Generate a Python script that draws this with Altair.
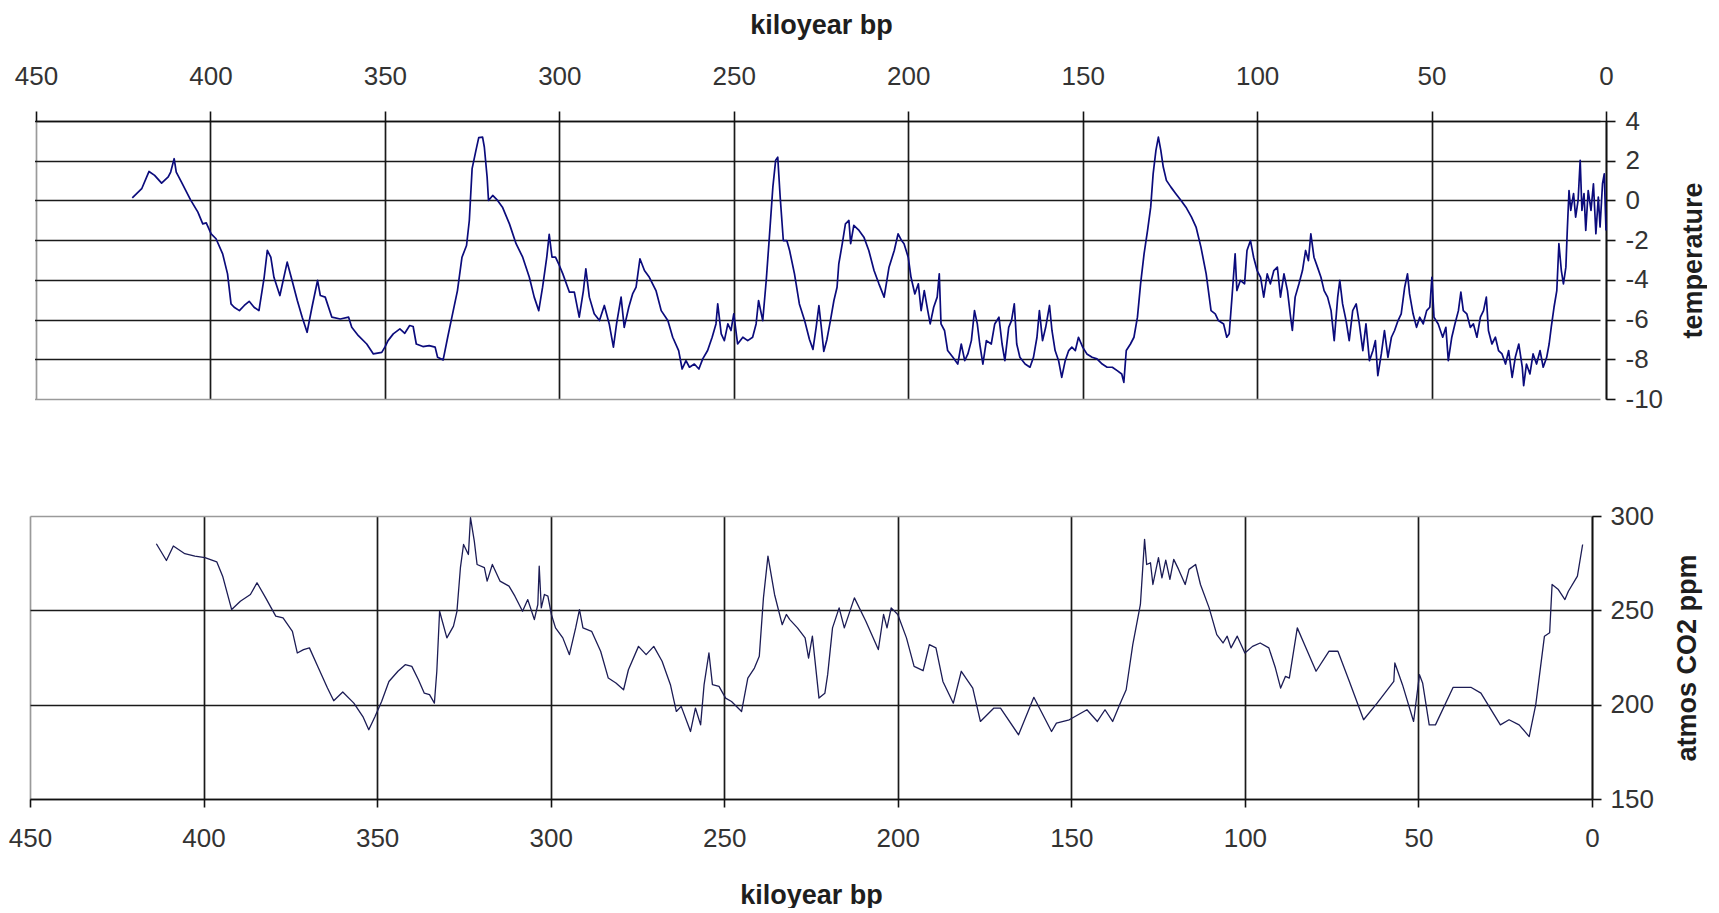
import altair as alt
import pandas as pd

# ---------------- data ----------------
temp_year = [
    422.4, 419.7, 417.6, 416.0, 414.0, 412.1, 411.4, 410.4, 409.8, 408.3,
    405.7, 403.6, 402.2, 401.2, 399.8, 398.4, 396.5, 395.1, 394.1, 393.2,
    391.7, 390.3, 388.9, 387.5, 386.1, 384.6, 383.7, 382.7, 381.8, 380.1,
    378.0, 376.6, 375.1, 373.7, 372.3, 370.9, 369.3, 368.5, 367.1, 365.2,
    362.8, 360.4, 359.5, 357.6, 355.2, 353.3, 350.9, 350.0, 349.1, 347.6,
    345.7, 344.3, 342.9, 341.9, 341.0, 339.1, 337.3, 335.6, 334.9, 333.3,
    332.0, 330.6, 329.2, 327.9, 326.6, 325.8, 325.0, 323.9, 323.1, 322.0,
    321.5, 320.7, 320.3, 319.1, 317.7, 316.3, 314.3, 312.4, 310.5, 308.6,
    307.2, 305.9, 304.8, 303.6, 302.9, 302.1, 301.1, 300.2, 299.0, 297.1,
    295.7, 294.3, 293.1, 292.4, 291.4, 290.0, 288.5, 287.1, 285.7, 284.5,
    283.6, 282.3, 281.4, 280.1, 279.0, 278.0, 276.9, 275.6, 274.2, 272.3,
    270.8, 268.9, 267.5, 265.8, 264.8, 263.7, 262.7, 261.3, 260.0, 258.9,
    257.5, 256.2, 255.1, 254.6, 253.6, 252.7, 251.7, 250.8, 250.0, 248.9,
    247.4, 246.0, 244.6, 243.6, 242.9, 241.7, 240.7, 239.8, 238.8, 238.0,
    237.4, 236.7, 235.8, 234.8, 234.0, 232.6, 231.2, 229.7, 228.3, 227.3,
    226.4, 225.6, 224.9, 224.2, 223.3, 222.3, 221.3, 220.4, 219.9, 218.9,
    218.0, 217.0, 216.5, 215.6, 214.1, 212.7, 211.3, 209.8, 208.4, 206.9,
    205.5, 204.0, 202.9, 201.9, 201.2, 200.0, 199.2, 198.1, 197.1, 196.3,
    195.4, 194.4, 193.7, 192.7, 191.7, 191.1, 190.6, 189.6, 188.7, 187.2,
    185.8, 184.8, 183.8, 182.9, 181.9, 181.0, 180.2, 179.5, 178.6, 177.6,
    176.2, 175.2, 174.0, 173.1, 172.3, 171.2, 170.4, 169.6, 168.9, 168.0,
    166.5, 165.1, 164.1, 163.1, 162.4, 161.5, 160.6, 159.5, 158.8, 157.9,
    156.9, 156.0, 155.0, 154.0, 153.1, 152.1, 151.2, 150.0, 148.8, 147.3,
    145.9, 144.4, 143.0, 141.5, 140.1, 138.8, 138.2, 137.5, 136.3, 135.3,
    134.3, 133.4, 132.4, 131.4, 130.5, 129.8, 129.0, 128.3, 127.6, 126.9,
    126.0, 124.7, 123.3, 121.8, 120.4, 118.8, 117.5, 116.1, 114.6, 113.2,
    112.0, 111.1, 109.6, 108.7, 108.0, 107.2, 106.3, 105.8, 104.8, 103.6,
    102.9, 101.9, 101.0, 100.0, 99.0, 98.1, 97.1, 96.2, 95.2, 94.2,
    93.3, 92.3, 91.3, 90.4, 89.9, 89.1, 88.0, 87.0, 86.1, 85.3,
    84.6, 83.7, 82.7, 81.7, 80.8, 79.8, 78.8, 77.9, 76.9, 76.3,
    75.5, 74.5, 73.6, 72.6, 71.6, 70.7, 69.7, 68.8, 67.8, 66.8,
    66.1, 65.4, 64.4, 63.5, 62.5, 61.5, 60.6, 59.6, 58.7, 57.7,
    56.9, 56.3, 55.3, 54.3, 53.4, 52.4, 51.4, 50.5, 49.9, 49.3,
    48.1, 46.8, 45.9, 45.2, 44.2, 43.3, 42.3, 41.6, 40.9, 39.9,
    38.9, 38.0, 37.0, 36.0, 35.1, 34.3, 33.7, 32.7, 31.7, 30.8,
    29.8, 28.8, 27.9, 26.9, 26.0, 25.0, 24.0, 23.6, 22.8, 21.8,
    20.9, 19.9, 18.9, 18.0, 17.0, 16.3, 15.7, 14.9, 14.1, 13.5,
    12.8, 12.2, 11.5, 11.1, 10.6, 10.1, 9.3, 8.7, 8.0, 7.4,
    6.9, 6.3, 5.8, 5.1, 4.3, 3.6, 2.9, 2.2, 1.7, 1.0,
    0.5, 0.0,
]
temp_value = [
    0.13, 0.59, 1.46, 1.26, 0.87, 1.18, 1.43, 2.10, 1.43, 0.92,
    0.03, -0.59, -1.18, -1.13, -1.68, -1.93, -2.69, -3.70, -5.21, -5.38,
    -5.55, -5.29, -5.08, -5.38, -5.55, -3.87, -2.52, -2.86, -3.87, -4.79,
    -3.11, -4.03, -5.04, -5.88, -6.64, -5.38, -4.03, -4.79, -4.87, -5.88,
    -5.97, -5.88, -6.39, -6.81, -7.23, -7.73, -7.65, -7.39, -7.06, -6.72,
    -6.47, -6.69, -6.30, -6.35, -7.23, -7.36, -7.31, -7.39, -7.90, -8.03,
    -6.89, -5.71, -4.54, -2.86, -2.27, -1.01, 1.60, 2.52, 3.16, 3.19,
    2.69, 1.18, 0.00, 0.25, 0.00, -0.34, -1.18, -2.18, -2.86, -3.87,
    -4.87, -5.55, -4.37, -2.86, -1.71, -2.86, -2.86, -3.19, -3.70, -4.62,
    -4.62, -5.88, -4.54, -3.45, -4.87, -5.71, -6.05, -5.29, -6.22, -7.39,
    -6.22, -4.87, -6.39, -5.38, -4.71, -4.37, -2.94, -3.53, -3.87, -4.54,
    -5.55, -6.05, -6.89, -7.56, -8.49, -8.07, -8.40, -8.24, -8.49, -7.98,
    -7.56, -6.89, -6.22, -5.21, -6.72, -7.06, -6.22, -6.55, -5.71, -7.23,
    -6.89, -7.06, -6.89, -6.22, -5.04, -6.05, -4.03, -1.85, 0.67, 2.02,
    2.18, 0.17, -2.02, -2.02, -2.52, -3.70, -5.21, -6.05, -7.00, -7.50,
    -6.40, -5.30, -6.40, -7.60, -7.00, -6.05, -5.04, -4.37, -3.19, -2.18,
    -1.18, -1.01, -2.18, -1.26, -1.51, -1.85, -2.52, -3.53, -4.20, -4.87,
    -3.36, -2.52, -1.68, -2.02, -2.18, -2.86, -3.87, -4.71, -4.20, -5.55,
    -4.54, -5.55, -6.22, -5.38, -4.87, -3.70, -6.22, -6.55, -7.56, -7.90,
    -8.24, -7.23, -8.07, -7.73, -7.06, -5.55, -6.22, -7.23, -8.24, -7.06,
    -7.23, -6.22, -5.88, -7.23, -8.07, -6.39, -6.05, -5.21, -7.23, -7.90,
    -8.24, -8.40, -7.90, -6.89, -5.55, -7.06, -6.39, -5.29, -6.55, -7.56,
    -8.07, -8.91, -8.07, -7.56, -7.39, -7.56, -6.89, -7.39, -7.73, -7.90,
    -7.98, -8.24, -8.40, -8.40, -8.57, -8.74, -9.16, -7.56, -7.23, -6.89,
    -5.88, -4.20, -2.69, -1.51, -0.34, 1.34, 2.52, 3.19, 2.52, 1.68,
    1.01, 0.67, 0.34, 0.00, -0.34, -0.84, -1.34, -2.35, -3.70, -5.55,
    -5.71, -6.05, -6.22, -6.89, -6.72, -4.87, -2.69, -4.54, -4.03, -4.20,
    -2.52, -2.02, -2.86, -3.53, -3.87, -4.87, -3.70, -4.20, -3.53, -3.36,
    -4.87, -3.70, -4.54, -5.88, -6.55, -4.87, -4.20, -3.53, -2.52, -3.03,
    -1.68, -2.86, -3.36, -3.87, -4.54, -4.87, -5.55, -7.06, -4.87, -4.03,
    -5.21, -6.05, -7.06, -5.55, -5.21, -6.22, -7.56, -6.22, -8.07, -7.56,
    -7.06, -8.82, -7.73, -6.55, -7.90, -6.89, -6.55, -6.05, -5.71, -4.37,
    -3.70, -4.71, -5.71, -6.39, -5.88, -6.22, -5.55, -5.38, -3.87, -5.88,
    -6.22, -6.89, -6.39, -8.07, -6.89, -6.22, -5.55, -4.62, -5.55, -5.71,
    -6.39, -6.22, -6.89, -5.88, -5.55, -4.87, -6.55, -7.23, -6.89, -7.56,
    -7.73, -8.24, -7.56, -8.91, -7.90, -7.23, -8.40, -9.33, -8.24, -8.74,
    -7.73, -8.24, -7.56, -8.40, -7.90, -7.23, -6.39, -5.38, -4.54, -2.18,
    -3.53, -4.20, -3.36, -1.51, 0.50, -0.50, 0.34, -0.84, 0.00, 2.02,
    -0.50, 0.34, -1.51, 0.50, -0.50, 0.84, -1.68, 0.17, -1.34, 0.84,
    1.34, -1.51,
]

co2_year = [
    413.6, 410.7, 408.7, 405.4, 402.5, 399.6, 396.2, 394.5, 391.9, 389.4,
    386.5, 384.6, 382.1, 379.2, 377.1, 374.4, 373.0, 371.2, 369.5, 366.9,
    364.3, 362.5, 359.9, 356.7, 354.1, 352.4, 350.6, 348.7, 346.6, 344.0,
    341.9, 340.0, 338.1, 336.4, 334.9, 333.5, 332.8, 332.0, 329.9, 328.0,
    327.0, 326.0, 325.1, 323.7, 323.1, 322.0, 321.2, 319.1, 318.3, 316.8,
    314.6, 312.0, 310.3, 308.1, 306.6, 304.7, 303.7, 303.3, 302.7, 301.8,
    300.8, 299.8, 298.6, 296.5, 294.6, 292.8, 291.7, 290.7, 288.2, 285.6,
    283.4, 281.2, 279.0, 277.6, 274.7, 272.5, 270.3, 267.9, 265.5, 263.8,
    262.4, 259.7, 258.3, 256.8, 255.8, 254.4, 253.4, 251.5, 249.6, 247.9,
    245.0, 243.2, 241.3, 239.9, 238.7, 237.4, 235.5, 233.3, 232.1, 231.1,
    228.9, 226.7, 225.7, 224.6, 222.7, 221.0, 220.2, 218.8, 216.9, 215.4,
    212.5, 209.2, 205.6, 204.1, 203.1, 201.9, 200.0, 197.5, 195.3, 192.7,
    190.9, 189.0, 187.0, 184.0, 181.7, 178.4, 176.2, 172.3, 170.4, 165.2,
    160.8, 155.7, 154.3, 150.6, 145.5, 142.5, 140.3, 138.1, 135.9, 134.2,
    132.3, 130.1, 128.9, 128.3, 127.2, 126.5, 124.9, 123.9, 122.8, 121.6,
    120.5, 119.1, 117.2, 116.1, 114.2, 112.8, 110.3, 108.1, 106.3, 105.1,
    104.0, 102.2, 100.0, 97.8, 95.6, 93.1, 91.2, 89.7, 88.3, 87.2,
    84.9, 82.8, 79.5, 75.8, 73.2, 69.9, 65.8, 61.9, 57.1, 56.8,
    54.6, 51.4, 49.7, 48.8, 46.9, 45.1, 40.0, 34.9, 32.0, 26.4,
    23.9, 21.0, 18.1, 16.2, 13.7, 12.2, 11.5, 9.7, 7.8, 6.8,
    4.2, 2.7,
]
co2_value = [
    285.3, 276.4, 284.1, 280.0, 278.7, 277.9, 275.7, 268.1, 250.4, 254.8,
    258.4, 264.6, 256.6, 246.9, 246.0, 238.9, 227.4, 229.2, 230.1, 219.4,
    208.8, 202.1, 206.7, 200.8, 193.7, 186.7, 193.7, 201.7, 212.3, 217.7,
    221.2, 220.3, 213.2, 206.1, 205.3, 200.8, 217.7, 249.5, 235.4, 241.6,
    249.5, 272.6, 284.9, 279.6, 299.1, 286.7, 274.3, 272.6, 265.5, 274.3,
    265.5, 262.8, 257.5, 249.5, 255.7, 245.1, 253.1, 273.4, 251.3, 258.4,
    257.5, 247.8, 240.7, 235.4, 226.5, 240.7, 250.4, 240.7, 238.9, 228.3,
    214.1, 211.5, 207.9, 218.5, 230.9, 226.5, 230.9, 223.0, 210.6, 196.4,
    199.1, 185.8, 198.2, 189.3, 210.6, 227.4, 210.6, 209.7, 203.5, 201.7,
    196.4, 214.1, 219.4, 225.6, 256.6, 278.7, 258.4, 242.4, 247.8, 245.1,
    240.7, 235.4, 224.7, 236.3, 203.5, 206.1, 215.9, 240.7, 251.3, 240.7,
    256.6, 244.2, 229.2, 247.8, 240.7, 251.3, 247.8, 235.4, 220.3, 218.0,
    231.8, 230.1, 212.3, 200.8, 217.7, 208.8, 191.1, 198.2, 198.2, 184.0,
    203.9, 185.8, 190.2, 192.0, 197.3, 191.1, 197.3, 191.1, 200.8, 207.9,
    231.8, 253.1, 287.6, 274.3, 275.2, 263.7, 277.9, 267.2, 276.6, 266.4,
    277.0, 271.7, 263.7, 271.7, 274.3, 263.7, 251.3, 237.1, 232.7, 236.3,
    230.1, 236.3, 227.4, 230.9, 232.7, 230.1, 219.4, 208.8, 215.0, 214.1,
    240.7, 231.8, 217.7, 228.3, 228.3, 212.3, 192.0, 200.8, 212.3, 222.1,
    210.6, 191.1, 215.9, 211.5, 189.3, 189.3, 209.2, 209.2, 206.1, 189.3,
    192.0, 189.3, 183.1, 200.0, 236.3, 238.1, 263.7, 261.0, 255.7, 260.1,
    268.1, 284.9,
]

x_ticks = [450, 400, 350, 300, 250, 200, 150, 100, 50, 0]
temp_ticks = [-10, -8, -6, -4, -2, 0, 2, 4]
co2_ticks = [150, 200, 250, 300]

temp_df = pd.DataFrame({"year": temp_year, "temp": temp_value})
co2_df = pd.DataFrame({"year": co2_year, "co2": co2_value})
mask_df = pd.DataFrame({"k": [0]})

FONT = "Liberation Sans"
LABEL_SIZE = 26
TITLE_SIZE = 27
PLAIN = "'' + datum.value"
FRAME = "#9a9a9a"
GRID = "#1a1a1a"

TOP_W, TOP_SHIFT, TOP_H = 1576, 6, 278   # top plot area starts 6 px right of the bottom one
BOT_W, BOT_H = 1562, 283


def grid_color(expr):
    # grid lines are black except the ones that form the grey frame
    return {"condition": {"test": expr, "value": FRAME}, "value": GRID}


# ---------------- top panel: temperature ----------------
top_line = alt.Chart(temp_df).mark_line(
    color="#0b0b7c", strokeWidth=1.7, strokeJoin="round"
).encode(
    x=alt.X(
        "year:Q",
        scale=alt.Scale(domain=[0, 450], reverse=True, nice=False, zero=False,
                        range=[TOP_SHIFT, TOP_W]),
        axis=alt.Axis(
            orient="top", values=x_ticks, title="kiloyear bp", labelExpr=PLAIN,
            tickSize=10, labelPadding=22, titlePadding=24, labelFlush=False,
            gridColor=grid_color("datum.value == 450"),
        ),
    ),
    y=alt.Y(
        "temp:Q",
        scale=alt.Scale(domain=[-10, 4], nice=False, zero=False),
        axis=alt.Axis(
            orient="right", values=temp_ticks, title="temperature", labelExpr=PLAIN,
            tickSize=9, labelPadding=10, titlePadding=45, titleAngle=270,
            labelAlign="left", labelBaseline="middle",
            gridColor=grid_color("datum.value == -10"),
        ),
    ),
)

# white strip that hides the grid-line stubs left of the top panel's grey edge
mask = alt.Chart(mask_df).mark_rect(color="white").encode(
    x=alt.value(0), x2=alt.value(TOP_SHIFT - 1), y=alt.value(-1), y2=alt.value(TOP_H + 2)
)

top = alt.layer(mask, top_line).properties(width=TOP_W, height=TOP_H)

# ---------------- bottom panel: CO2 ----------------
bottom = alt.Chart(co2_df).mark_line(
    color="#1c1c55", strokeWidth=1.3, strokeJoin="round"
).encode(
    x=alt.X(
        "year:Q",
        scale=alt.Scale(domain=[0, 450], reverse=True, nice=False, zero=False),
        axis=alt.Axis(
            orient="bottom", values=x_ticks, title="kiloyear bp", labelExpr=PLAIN,
            tickSize=8, labelPadding=18, titlePadding=31, labelFlush=False,
            gridColor=grid_color("datum.value == 450"),
        ),
    ),
    y=alt.Y(
        "co2:Q",
        scale=alt.Scale(domain=[150, 300], nice=False, zero=False),
        axis=alt.Axis(
            orient="right", values=co2_ticks, title="atmos CO2 ppm", labelExpr=PLAIN,
            tickSize=9, labelPadding=9, titlePadding=48, titleAngle=270,
            labelAlign="left", labelBaseline="middle",
            gridColor=grid_color("datum.value == 300"),
        ),
    ),
).properties(width=BOT_W, height=BOT_H)

chart = alt.vconcat(top, bottom, spacing=91).properties(
    padding={"left": 0, "top": 3, "right": 0, "bottom": 0},
    background="white",
).configure_view(
    stroke="transparent", strokeWidth=0
).configure_axis(
    labelFont=FONT, labelFontSize=LABEL_SIZE, labelColor="#333333",
    titleFont=FONT, titleFontSize=TITLE_SIZE, titleFontWeight="bold",
    titleColor="#1e1e1e",
    domainColor="#111111", domainWidth=1.6,
    tickColor="#111111", tickWidth=1.6,
    grid=True, gridWidth=1.7,
)

chart.save("out.html", embed_options={"renderer": "svg", "actions": False})
